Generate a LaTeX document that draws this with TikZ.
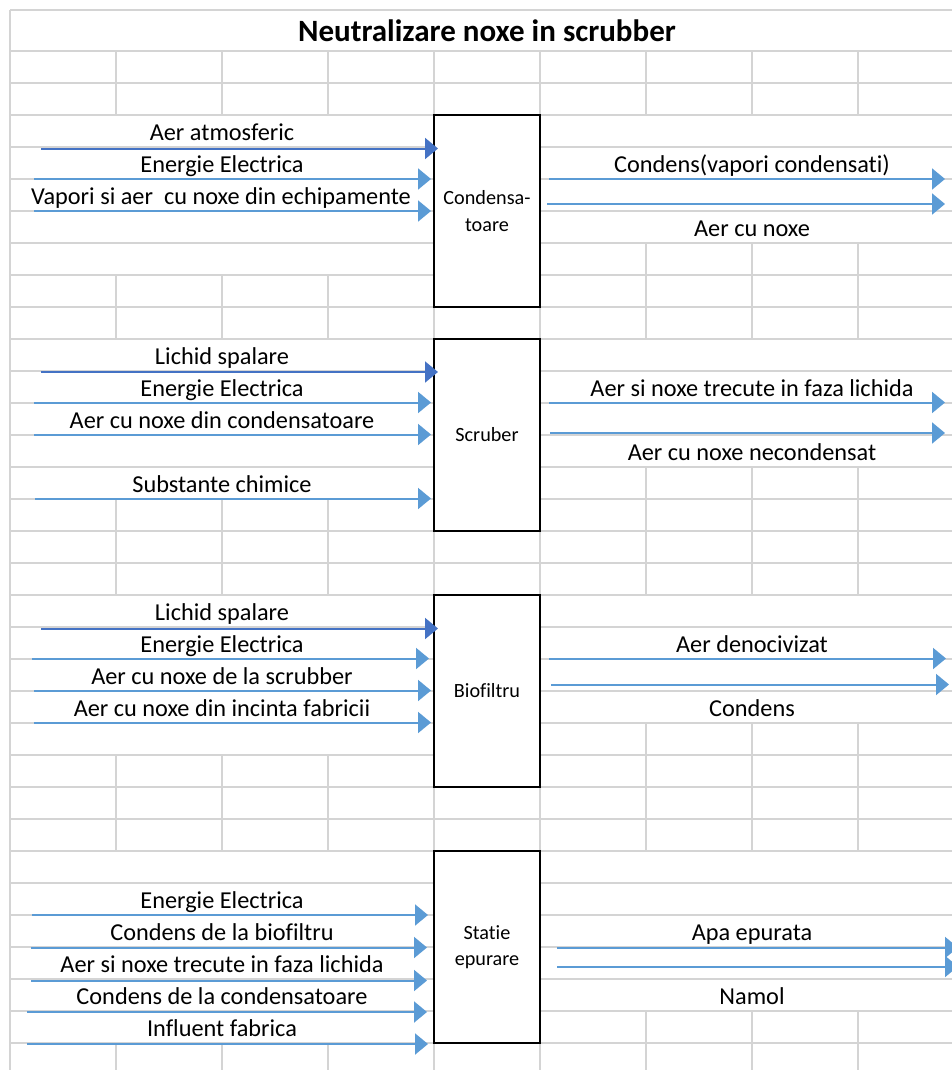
\documentclass[tikz,border=0pt]{standalone}
\usepackage{fontspec}
\setmainfont{Carlito}[Ligatures=NoCommon]
\usetikzlibrary{arrows.meta}
\definecolor{gridc}{HTML}{D4D4D4}
\definecolor{darkb}{HTML}{4472C4}
\definecolor{lightb}{HTML}{5B9BD5}
\begin{document}
\begin{tikzpicture}[x=1pt,y=-1pt,
  gridline/.style={draw=gridc,line width=1.1pt},
  procbox/.style={draw=black,fill=white,line width=2pt,minimum width=106pt,minimum height=192pt,inner sep=0pt,align=center,font=\fontsize{20.2}{26.5}\selectfont},
  flowarr/.style={line width=2pt,-{Triangle[length=13pt,width=21pt]}},
  darkarr/.style={flowarr,draw=darkb,fill=darkb},
  lightarr/.style={flowarr,draw=lightb,fill=lightb},
  lbl/.style={anchor=base,inner sep=0pt,font=\fontsize{24.3}{29}\selectfont},
  ttl/.style={anchor=base,inner sep=0pt,font=\fontsize{31}{37}\selectfont\bfseries}]
\useasboundingbox (0,0) rectangle (952,1070);
\fill[white] (0,0) rectangle (952,1070);
% horizontal grid lines
\draw[gridline] (10,10) -- (952,10);
\foreach \k in {0,...,31} {
  \draw[gridline] (10,51+32*\k) -- (952,51+32*\k);
}
% left border and middle columns
\draw[gridline] (10,10) -- (10,1070);
\foreach \x in {434,540} { \draw[gridline] (\x,51) -- (\x,1070); }
% left columns
\foreach \x in {116,222,328} {
  \foreach \ya/\yb in {51/115,275/339,499/595,755/851,1043/1070} {
    \draw[gridline] (\x,\ya) -- (\x,\yb);
  }
}
% right columns
\foreach \x in {646,752,858} {
  \foreach \ya/\yb in {51/115,243/339,467/595,723/851,1011/1070} {
    \draw[gridline] (\x,\ya) -- (\x,\yb);
  }
}
% title
\node[ttl] (title) at (487,42) {Neutralizare noxe in scrubber};
% boxes
\node[procbox] (cond) at (487,211) {Condensa-\\toare};
\node[procbox] (scrub) at (487,435) {Scruber};
\node[procbox] (bio) at (487,691) {Biofiltru};
\node[procbox] (stat) at (487,947) {Statie\\epurare};
% arrows
\foreach \n/\xa/\xb/\y/\s in {
  a1/41/438/148.5/darkarr, a2/34/431/179/lightarr, a3/34/431/211/lightarr,
  a4/549/945/179/lightarr, a5/547/945/204/lightarr,
  b1/41/438/372/darkarr, b2/34/431/402.5/lightarr, b3/34/431/434.5/lightarr, b4/35/431/498.5/lightarr,
  b5/549/945/402.5/lightarr, b6/550/945/433/lightarr,
  c1/41/438/628.5/darkarr, c2/32/429/658.5/lightarr, c3/34/431/690.5/lightarr, c4/34/431/722.5/lightarr,
  c5/549/946/658.5/lightarr, c6/551/949/684.5/lightarr,
  d1/32/428/915/lightarr, d2/31/427/947.5/lightarr, d3/31/427/980.5/lightarr, d4/27/427/1012/lightarr, d5/27/428/1044/lightarr,
  d6/557/958/947.5/lightarr, d7/557/958/966.5/lightarr} {
  \coordinate (\n s) at (\xa,\y);
  \coordinate (\n e) at (\xb,\y);
  \draw[\s] (\n s) -- (\n e);
}
% labels section 1
\node[lbl] (t1) at (222,140) {Aer atmosferic};
\node[lbl] (t2) at (222,172) {Energie Electrica};
\node[lbl] (t3) at (221,204) {Vapori si aer\ \ cu noxe din echipamente};
\node[lbl] (t4) at (752,172) {Condens(vapori condensati)};
\node[lbl] (t5) at (752,236) {Aer cu noxe};
% section 2
\node[lbl] (u1) at (222,364) {Lichid spalare};
\node[lbl] (u2) at (222,396) {Energie Electrica};
\node[lbl] (u3) at (222,428) {Aer cu noxe din condensatoare};
\node[lbl] (u4) at (222,492) {Substante chimice};
\node[lbl] (u5) at (752,396) {Aer si noxe trecute in faza lichida};
\node[lbl] (u6) at (752,460) {Aer cu noxe necondensat};
% section 3
\node[lbl] (v1) at (222,620) {Lichid spalare};
\node[lbl] (v2) at (222,652) {Energie Electrica};
\node[lbl] (v3) at (222,684) {Aer cu noxe de la scrubber};
\node[lbl] (v4) at (222,716) {Aer cu noxe din incinta fabricii};
\node[lbl] (v5) at (752,652) {Aer denocivizat};
\node[lbl] (v6) at (752,716) {Condens};
% section 4
\node[lbl] (w1) at (222,908) {Energie Electrica};
\node[lbl] (w2) at (222,940) {Condens de la biofiltru};
\node[lbl] (w3) at (222,972) {Aer si noxe trecute in faza lichida};
\node[lbl] (w4) at (222,1004) {Condens de la condensatoare};
\node[lbl] (w5) at (222,1036) {Influent fabrica};
\node[lbl] (w6) at (752,940) {Apa epurata};
\node[lbl] (w7) at (752,1004) {Namol};
\end{tikzpicture}
\end{document}
